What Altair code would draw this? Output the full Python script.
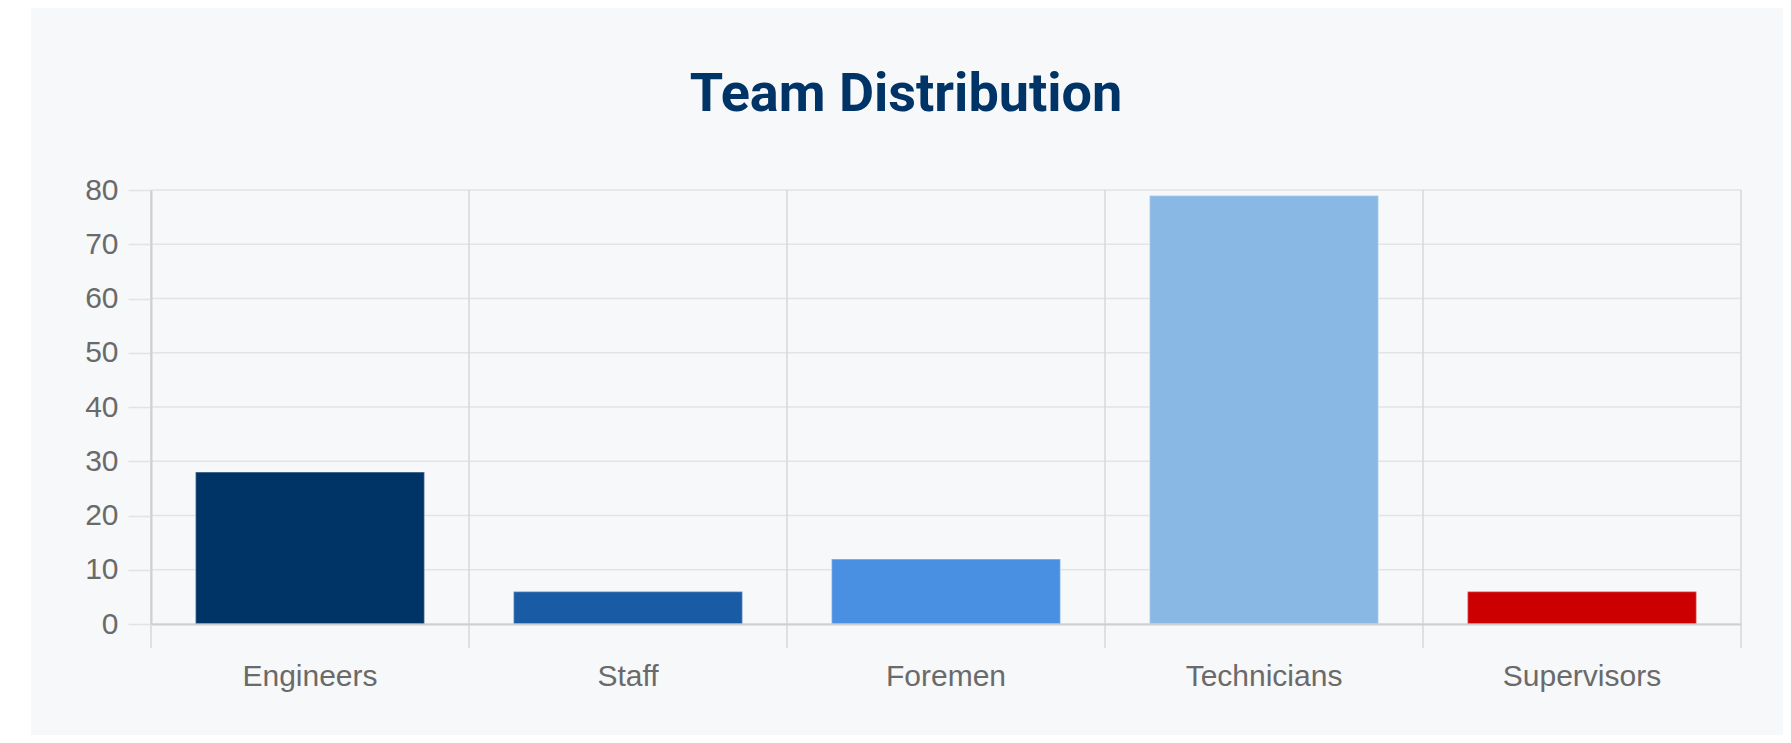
import altair as alt
import pandas as pd

# ---- data ----
categories = ["Engineers", "Staff", "Foremen", "Technicians", "Supervisors"]
counts = [28, 6, 12, 79, 6]
bar_colors = ["#003366", "#1a5ba5", "#4a90e2", "#8ab8e4", "#cc0000"]
y_ticks = [0, 10, 20, 30, 40, 50, 60, 70, 80]
title_text = "Team Distribution"

W, H = 1590, 434

bars_df = pd.DataFrame({"category": categories, "count": counts})
grid_df = pd.DataFrame({"tick": y_ticks})
one = pd.DataFrame({"k": [0]})

x_scale = alt.Scale(domain=categories, paddingInner=0, paddingOuter=0)
y_scale = alt.Scale(domain=[0, 80], nice=False)

LABEL_FONT = "Liberation Sans"
LABEL_COLOR = "#6a6a6a"
GRID = "#e2e3e5"
VLINE = "#d8d9dc"
DOMAIN = "#cdcfd2"

x_axis = alt.Axis(
    title=None, labelAngle=0, labelFont=LABEL_FONT, labelFontSize=30,
    labelColor=LABEL_COLOR, labelPadding=61, labelBaseline="alphabetic",
    ticks=False, grid=False, domain=True, domainColor=DOMAIN,
    domainWidth=2, zindex=1,
)
y_axis = alt.Axis(
    title=None, values=y_ticks, labelFont=LABEL_FONT, labelFontSize=30,
    labelColor=LABEL_COLOR, labelPadding=10, ticks=True, tickSize=23,
    tickColor=GRID, tickWidth=1.5, grid=False, domain=True,
    domainColor=DOMAIN, domainWidth=2, zindex=1,
)

card = alt.Chart(one).mark_rect(fill="#f7f8fa").encode(
    x=alt.value(-120), x2=alt.value(W + 80),
    y=alt.value(-183), y2=alt.value(H + 140),
)

hgrid = alt.Chart(grid_df).mark_rule(color=GRID, strokeWidth=1.5).encode(
    y=alt.Y("tick:Q", scale=y_scale, axis=y_axis),
    x=alt.value(0), x2=alt.value(W),
)

vgrid = alt.Chart(bars_df).mark_rule(color=VLINE, strokeWidth=1.5).encode(
    x=alt.X("category:N", sort=categories, scale=x_scale, bandPosition=0, axis=x_axis),
    y=alt.value(0), y2=alt.value(H + 24),
)

right_edge = alt.Chart(one).mark_rule(color=VLINE, strokeWidth=1.5).encode(
    x=alt.value(W), y=alt.value(0), y2=alt.value(H + 24),
)

bars = alt.Chart(bars_df).mark_bar(
    width=alt.RelativeBandSize(0.72),
    stroke="white", strokeOpacity=0.35, strokeWidth=1.5,
).encode(
    x=alt.X("category:N", sort=categories, scale=x_scale, axis=x_axis),
    y=alt.Y("count:Q", scale=y_scale, axis=y_axis),
    color=alt.Color("category:N", scale=alt.Scale(domain=categories, range=bar_colors), legend=None),
)

title = alt.Chart(one).mark_text(
    text=title_text, font="Roboto", fontWeight="bold", fontSize=54,
    color="#003366", align="center", baseline="alphabetic",
).encode(x=alt.value(755), y=alt.value(-79))

chart = alt.layer(card, hgrid, vgrid, right_edge, bars, title).properties(
    width=W, height=H,
    padding={"left": 143, "top": 182, "right": 42, "bottom": 111},
    autosize=alt.AutoSizeParams(type="none"),
).configure(background="white").configure_view(stroke=None)

chart.save("out.html", embed_options={"renderer": "svg", "actions": False})
